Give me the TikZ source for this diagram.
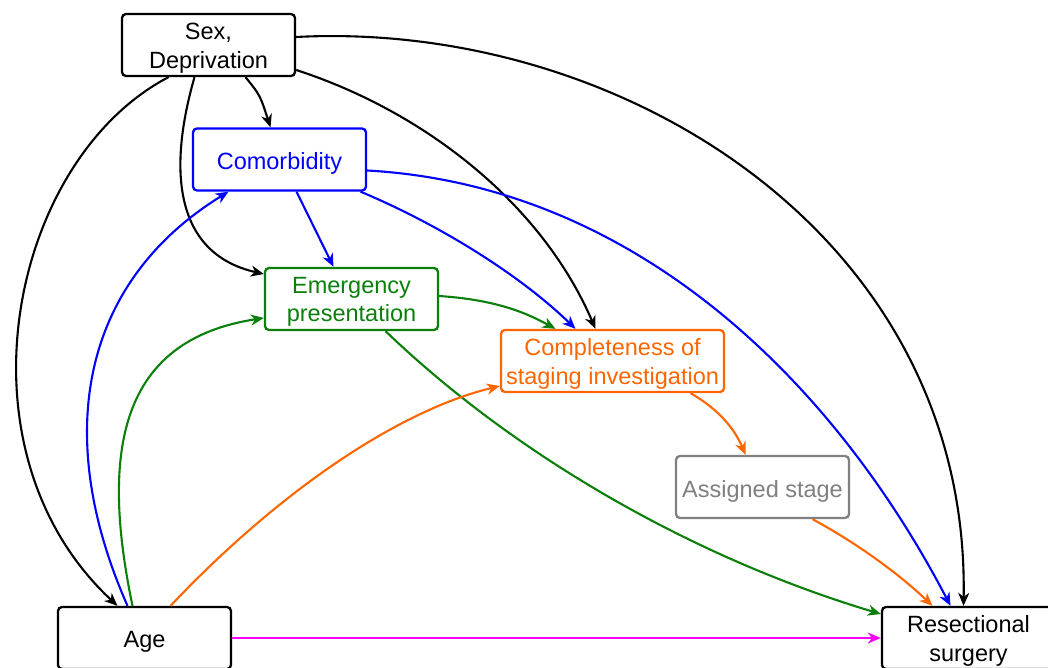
\documentclass[tikz,border=0pt]{standalone}
\usepackage{fontspec}
\setmainfont{Liberation Sans}
\usetikzlibrary{arrows.meta}
\definecolor{cblue}{RGB}{0,0,255}
\definecolor{cgreen}{RGB}{10,128,10}
\definecolor{corange}{RGB}{255,102,0}
\definecolor{cgray}{RGB}{128,128,128}
\definecolor{cmag}{RGB}{255,0,255}
\definecolor{cblack}{RGB}{0,0,0}
\begin{document}
\begin{tikzpicture}[x=1pt,y=-1pt,
  box/.style={draw,line width=2.3pt,rounded corners=4pt,minimum width=173pt,minimum height=62pt,inner sep=0pt},
  txt/.style={inner sep=0pt,align=center,font=\fontsize{23.5}{28.5}\selectfont},
  edge/.style={line width=2.1pt,-{Stealth[length=13pt,width=11pt,inset=4pt]}}]
\useasboundingbox (0,0) rectangle (1048,668);
\fill[white] (0,0) rectangle (1048,668);
\node[box,cblack] (sex) at (208.5,45) {};
\node[box,cblue] (com) at (279.5,159.5) {};
\node[box,cgreen] (emg) at (351.5,299) {};
\node[box,corange,minimum width=223pt] (csi) at (612.5,361) {};
\node[box,cgray] (ast) at (762.5,487) {};
\node[box,cblack] (age) at (144.5,638) {};
\node[box,cblack] (res) at (968.5,638) {};
\node[txt,cblack] (sext) at ([yshift=-3pt]sex.center) {Sex,\\Deprivation};
\node[txt,cblue] (comt) at ([yshift=-4pt]com.center) {Comorbidity};
\node[txt,cgreen] (emgt) at ([yshift=-3pt]emg.center) {Emergency\\presentation};
\node[txt,corange] (csit) at ([yshift=-3pt]csi.center) {Completeness of\\staging investigation};
\node[txt,cgray] (astt) at ([yshift=-4pt]ast.center) {Assigned stage};
\node[txt,cblack] (aget) at ([yshift=-4pt]age.center) {Age};
\node[txt,cblack] (rest) at ([yshift=-3pt]res.center) {Resectional\\surgery};
% black
\draw[edge,cblack] ([xshift=-40pt]sex.south) .. controls (10,160) and (-50,450) .. ([xshift=-27pt]age.north);
\draw[edge,cblack] ([xshift=37pt]sex.south) .. controls (260,95) .. ([xshift=-9pt]com.north);
\draw[edge,cblack] ([xshift=-14pt]sex.south) .. controls (165,180) and (180,255) .. ([yshift=25pt]emg.west);
\draw[edge,cblack] ([yshift=-25pt]sex.east) .. controls (420,110) and (540,200) .. ([xshift=-17pt]csi.north);
\draw[edge,cblack] ([yshift=8pt]sex.east) .. controls (620,20) and (970,235) .. ([xshift=-5pt]res.north);
% blue
\draw[edge,cblue] ([xshift=17pt]com.south) -- ([xshift=-18pt]emg.north);
\draw[edge,cblue] ([xshift=81pt]com.south) .. controls (440,225) and (520,275) .. ([xshift=-37pt]csi.north);
\draw[edge,cblue] ([yshift=-11pt]com.east) .. controls (630,185) and (830,375) .. ([xshift=-18pt]res.north);
\draw[edge,cblue] ([xshift=-17pt]age.north) .. controls (50,430) and (85,280) .. ([xshift=-51pt]com.south);
% green
\draw[edge,cgreen] ([yshift=3pt]emg.east) .. controls (500,300) and (530,315) .. ([xshift=-57pt]csi.north);
\draw[edge,cgreen] ([xshift=34pt]emg.south) .. controls (520,460) and (700,560) .. ([yshift=24pt]res.west);
\draw[edge,cgreen] ([xshift=-12pt]age.north) .. controls (100,450) and (120,340) .. ([yshift=-19pt]emg.west);
% orange
\draw[edge,corange] ([xshift=26pt]age.north) .. controls (280,490) and (400,410) .. ([yshift=-25pt]csi.west);
\draw[edge,corange] ([xshift=78pt]csi.south) .. controls (720,410) and (735,430) .. ([xshift=-17pt]ast.north);
\draw[edge,corange] ([xshift=50pt]ast.south) .. controls (860,545) and (900,575) .. ([xshift=-36pt]res.north);
% magenta
\draw[edge,cmag] (age.east) -- (res.west);
\end{tikzpicture}
\end{document}
